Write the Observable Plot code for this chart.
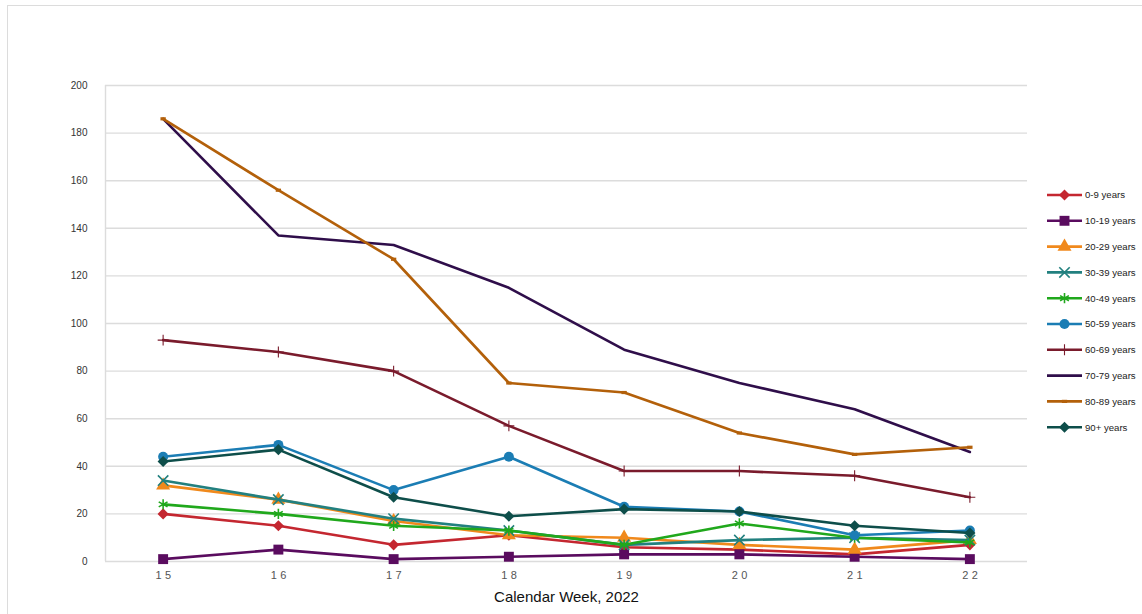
<!DOCTYPE html>
<html>
<head>
<meta charset="utf-8">
<script src="https://cdn.jsdelivr.net/npm/d3@7"></script>
<script src="https://cdn.jsdelivr.net/npm/@observablehq/plot@0.6"></script>
<style>
  html, body { margin: 0; padding: 0; background: #fff; }
  body { width: 1142px; height: 614px; position: relative; overflow: hidden;
         font-family: "Liberation Sans", Arial, sans-serif; }
  #frame { position: absolute; left: 7px; top: 5px; right: -2px; bottom: -2px;
           border-left: 1.5px solid #dcdcdc; border-top: 1.5px solid #dcdcdc; }
  #chart { position: absolute; left: 0; top: 0; }
  #legend { position: absolute; left: 0; top: 0; }
</style>
</head>
<body>
<div id="frame"></div>
<div id="chart"></div>
<div id="legend"></div>
<script>
// Calendar weeks on the x axis
const weeks = [15, 16, 17, 18, 19, 20, 21, 22];
const yTicks = [0, 20, 40, 60, 80, 100, 120, 140, 160, 180, 200];
const ageGroups = ["0-9 years", "10-19 years", "20-29 years", "30-39 years", "40-49 years",
                   "50-59 years", "60-69 years", "70-79 years", "80-89 years", "90+ years"];

// Weekly counts per age group
const cases0to9   = [20, 15, 7, 11, 6, 5, 3, 7];
const cases10to19 = [1, 5, 1, 2, 3, 3, 2, 1];
const cases20to29 = [32, 26, 17, 11, 10, 7, 5, 9];
const cases30to39 = [34, 26, 18, 13, 7, 9, 10, 9];
const cases40to49 = [24, 20, 15, 13, 7, 16, 10, 8];
const cases50to59 = [44, 49, 30, 44, 23, 21, 11, 13];
const cases60to69 = [93, 88, 80, 57, 38, 38, 36, 27];
const cases70to79 = [186, 137, 133, 115, 89, 75, 64, 46];
const cases80to89 = [186, 156, 127, 75, 71, 54, 45, 48];
const cases90plus = [42, 47, 27, 19, 22, 21, 15, 12];

const seriesValues = [cases0to9, cases10to19, cases20to29, cases30to39, cases40to49,
                      cases50to59, cases60to69, cases70to79, cases80to89, cases90plus];

// Small horizontal bar marker
const dash = { draw(ctx, size) { const w = Math.sqrt(size) * 0.5; ctx.rect(-w, -1.6, 2 * w, 3.2); } };

// Line colour and marker per age group
const styles = [
  { color: "#c42730", symbol: "diamond2", r: 5,   filled: true },
  { color: "#5a0c5f", symbol: "square",   r: 5.6, filled: true },
  { color: "#f0891c", symbol: "triangle", r: 5.2, filled: true },
  { color: "#22807f", symbol: "times",    r: 4.8, filled: false },
  { color: "#20a81c", symbol: "asterisk", r: 4.8, filled: false },
  { color: "#1b7db4", symbol: "circle",   r: 5,   filled: true },
  { color: "#7a1b2c", symbol: "plus",     r: 3.6, filled: false, sw: 1.1 },
  { color: "#2f0e4a", symbol: null },
  { color: "#b3600a", symbol: dash,       r: 3,   filled: true },
  { color: "#0e4e4a", symbol: "diamond2", r: 5,   filled: true }
];

const table = ageGroups.flatMap((group, i) =>
  weeks.map((week, j) => ({ group, week, value: seriesValues[i][j] })));

const seriesMarks = ageGroups.flatMap((group, i) => {
  const s = styles[i];
  const rows = table.filter(d => d.group === group);
  const marks = [Plot.line(rows, { x: "week", y: "value", stroke: s.color, strokeWidth: 2.6 })];
  if (s.symbol) {
    marks.push(Plot.dot(rows, {
      x: "week", y: "value", symbol: s.symbol, r: s.r,
      fill: s.filled ? s.color : "none",
      stroke: s.filled ? "none" : s.color,
      strokeWidth: s.sw || 1.6
    }));
  }
  return marks;
});

const chart = Plot.plot({
  width: 1142,
  height: 614,
  marginLeft: 105,
  marginRight: 115,
  marginTop: 85,
  marginBottom: 53,
  style: { fontFamily: "'Liberation Sans', Arial, sans-serif", background: "transparent" },
  x: { type: "linear", domain: [14.5, 22.5] },
  y: { domain: [0, 200] },
  marks: [
    Plot.ruleY(yTicks, { stroke: "#dcdcdc", strokeWidth: 1.4 }),
    Plot.ruleX([14.5], { stroke: "#dcdcdc", strokeWidth: 1.4 }),
    Plot.axisY(yTicks, { tickSize: 0, tickPadding: 18, fontSize: 10, fill: "#333", label: null }),
    Plot.axisX(weeks, { tickSize: 0, tickPadding: 10, fontSize: 11, fill: "#555", dx: 2,
                        tickFormat: d => String(d), label: null }),
    ...seriesMarks,
    Plot.text(["Calendar Week, 2022"], { frameAnchor: "bottom", dy: 40, fontSize: 15, fill: "#111" })
  ]
});
document.getElementById("chart").appendChild(chart);

// Spread the digits of the week numbers
d3.select(chart).selectAll("g[aria-label='x-axis tick label'] text")
  .style("letter-spacing", "3.5px");

// Legend on the right
const legend = d3.select("#legend").append("svg")
  .attr("width", 1142).attr("height", 614)
  .style("font-family", "'Liberation Sans', Arial, sans-serif");
const symbolTypes = {
  diamond2: d3.symbolDiamond2, square: d3.symbolSquare, triangle: d3.symbolTriangle,
  times: d3.symbolTimes, asterisk: d3.symbolAsterisk, circle: d3.symbolCircle, plus: d3.symbolPlus
};
ageGroups.forEach((group, i) => {
  const s = styles[i];
  const g = legend.append("g").attr("transform", `translate(1047, ${195 + i * 25.8})`);
  g.append("line").attr("x1", 0).attr("x2", 35).attr("stroke", s.color).attr("stroke-width", 2.6);
  if (s.symbol) {
    const type = typeof s.symbol === "string" ? symbolTypes[s.symbol] : s.symbol;
    g.append("path")
      .attr("transform", "translate(17.5,0)")
      .attr("d", d3.symbol(type, Math.PI * s.r * s.r)())
      .attr("fill", s.filled ? s.color : "none")
      .attr("stroke", s.filled ? "none" : s.color)
      .attr("stroke-width", s.sw || 1.6);
  }
  g.append("text").attr("x", 38).attr("dy", "0.35em")
    .attr("font-size", 9.6).attr("fill", "#222").text(group);
});
</script>
</body>
</html>
